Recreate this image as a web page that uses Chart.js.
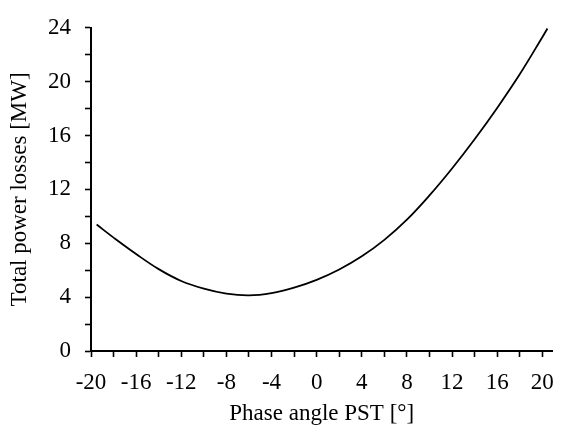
<!DOCTYPE html>
<html>
<head>
<meta charset="utf-8">
<script src="https://cdn.jsdelivr.net/npm/chart.js@4.4.1/dist/chart.umd.min.js"></script>
<style>
  html, body { margin: 0; padding: 0; background: #fff; }
  #wrap { width: 566px; height: 430px; }
</style>
</head>
<body>
<div id="wrap"><canvas id="chart" width="566" height="430"></canvas></div>
<script>
// phase angle [deg] and total losses [MW]
const angles = [-19.5, -18, -16, -14, -12, -10, -8, -6, -4, -2, 0, 2, 4, 6, 8, 10, 12, 14, 16, 18, 20, 20.45];
const losses = [9.39, 8.42, 7.2, 6.08, 5.2, 4.63, 4.26, 4.13, 4.3, 4.7, 5.28, 6.05, 7.03, 8.25, 9.75, 11.55, 13.55, 15.72, 18.05, 20.55, 23.3, 23.95];

const xTicks = [-20, -18, -16, -14, -12, -10, -8, -6, -4, -2, 0, 2, 4, 6, 8, 10, 12, 14, 16, 18, 20];
const xLabels = [-20, -16, -12, -8, -4, 0, 4, 8, 12, 16, 20];
const yTicks = [0, 2, 4, 6, 8, 10, 12, 14, 16, 18, 20, 22, 24];
const yLabels = [0, 4, 8, 12, 16, 20, 24];

const FONT = 'Liberation Serif, Times New Roman, serif';

const axisGrid = {
  display: true,
  drawOnChartArea: false,
  drawTicks: true,
  tickLength: 6,
  tickWidth: 1.6,
  tickColor: '#000'
};

new Chart(document.getElementById('chart'), {
  type: 'line',
  data: {
    datasets: [{
      data: angles.map((a, i) => ({ x: a, y: losses[i] })),
      borderColor: '#000',
      borderWidth: 1.8,
      pointRadius: 0,
      fill: false,
      tension: 0.4
    }]
  },
  options: {
    responsive: false,
    animation: false,
    layout: { padding: { top: 19, right: 9, left: 0, bottom: 0 } },
    plugins: {
      legend: { display: false },
      tooltip: { enabled: false }
    },
    scales: {
      x: {
        type: 'linear',
        min: -20,
        max: 20.9,
        afterBuildTicks: (s) => { s.ticks = xTicks.map(v => ({ value: v })); },
        afterFit: (s) => { s.height = 79; },
        grid: axisGrid,
        border: { display: true, color: '#000', width: 2 },
        ticks: {
          autoSkip: false,
          maxRotation: 0,
          padding: 12,
          color: '#000',
          font: { family: FONT, size: 23 },
          callback: (v) => xLabels.includes(v) ? String(v) : ''
        },
        title: {
          display: true,
          text: 'Phase angle PST [°]',
          color: '#000',
          font: { family: FONT, size: 23 },
          padding: { top: 0, bottom: 2 }
        }
      },
      y: {
        type: 'linear',
        min: 0,
        max: 24,
        afterBuildTicks: (s) => { s.ticks = yTicks.map(v => ({ value: v })); },
        afterFit: (s) => { s.width = 91; },
        grid: axisGrid,
        border: { display: true, color: '#000', width: 2 },
        ticks: {
          autoSkip: false,
          padding: 14,
          color: '#000',
          font: { family: FONT, size: 23 },
          callback: (v) => yLabels.includes(v) ? String(v) : ''
        },
        title: {
          display: true,
          text: 'Total power losses [MW]',
          color: '#000',
          font: { family: FONT, size: 23 },
          padding: { top: 6, bottom: 0 }
        }
      }
    }
  }
});
</script>
</body>
</html>
